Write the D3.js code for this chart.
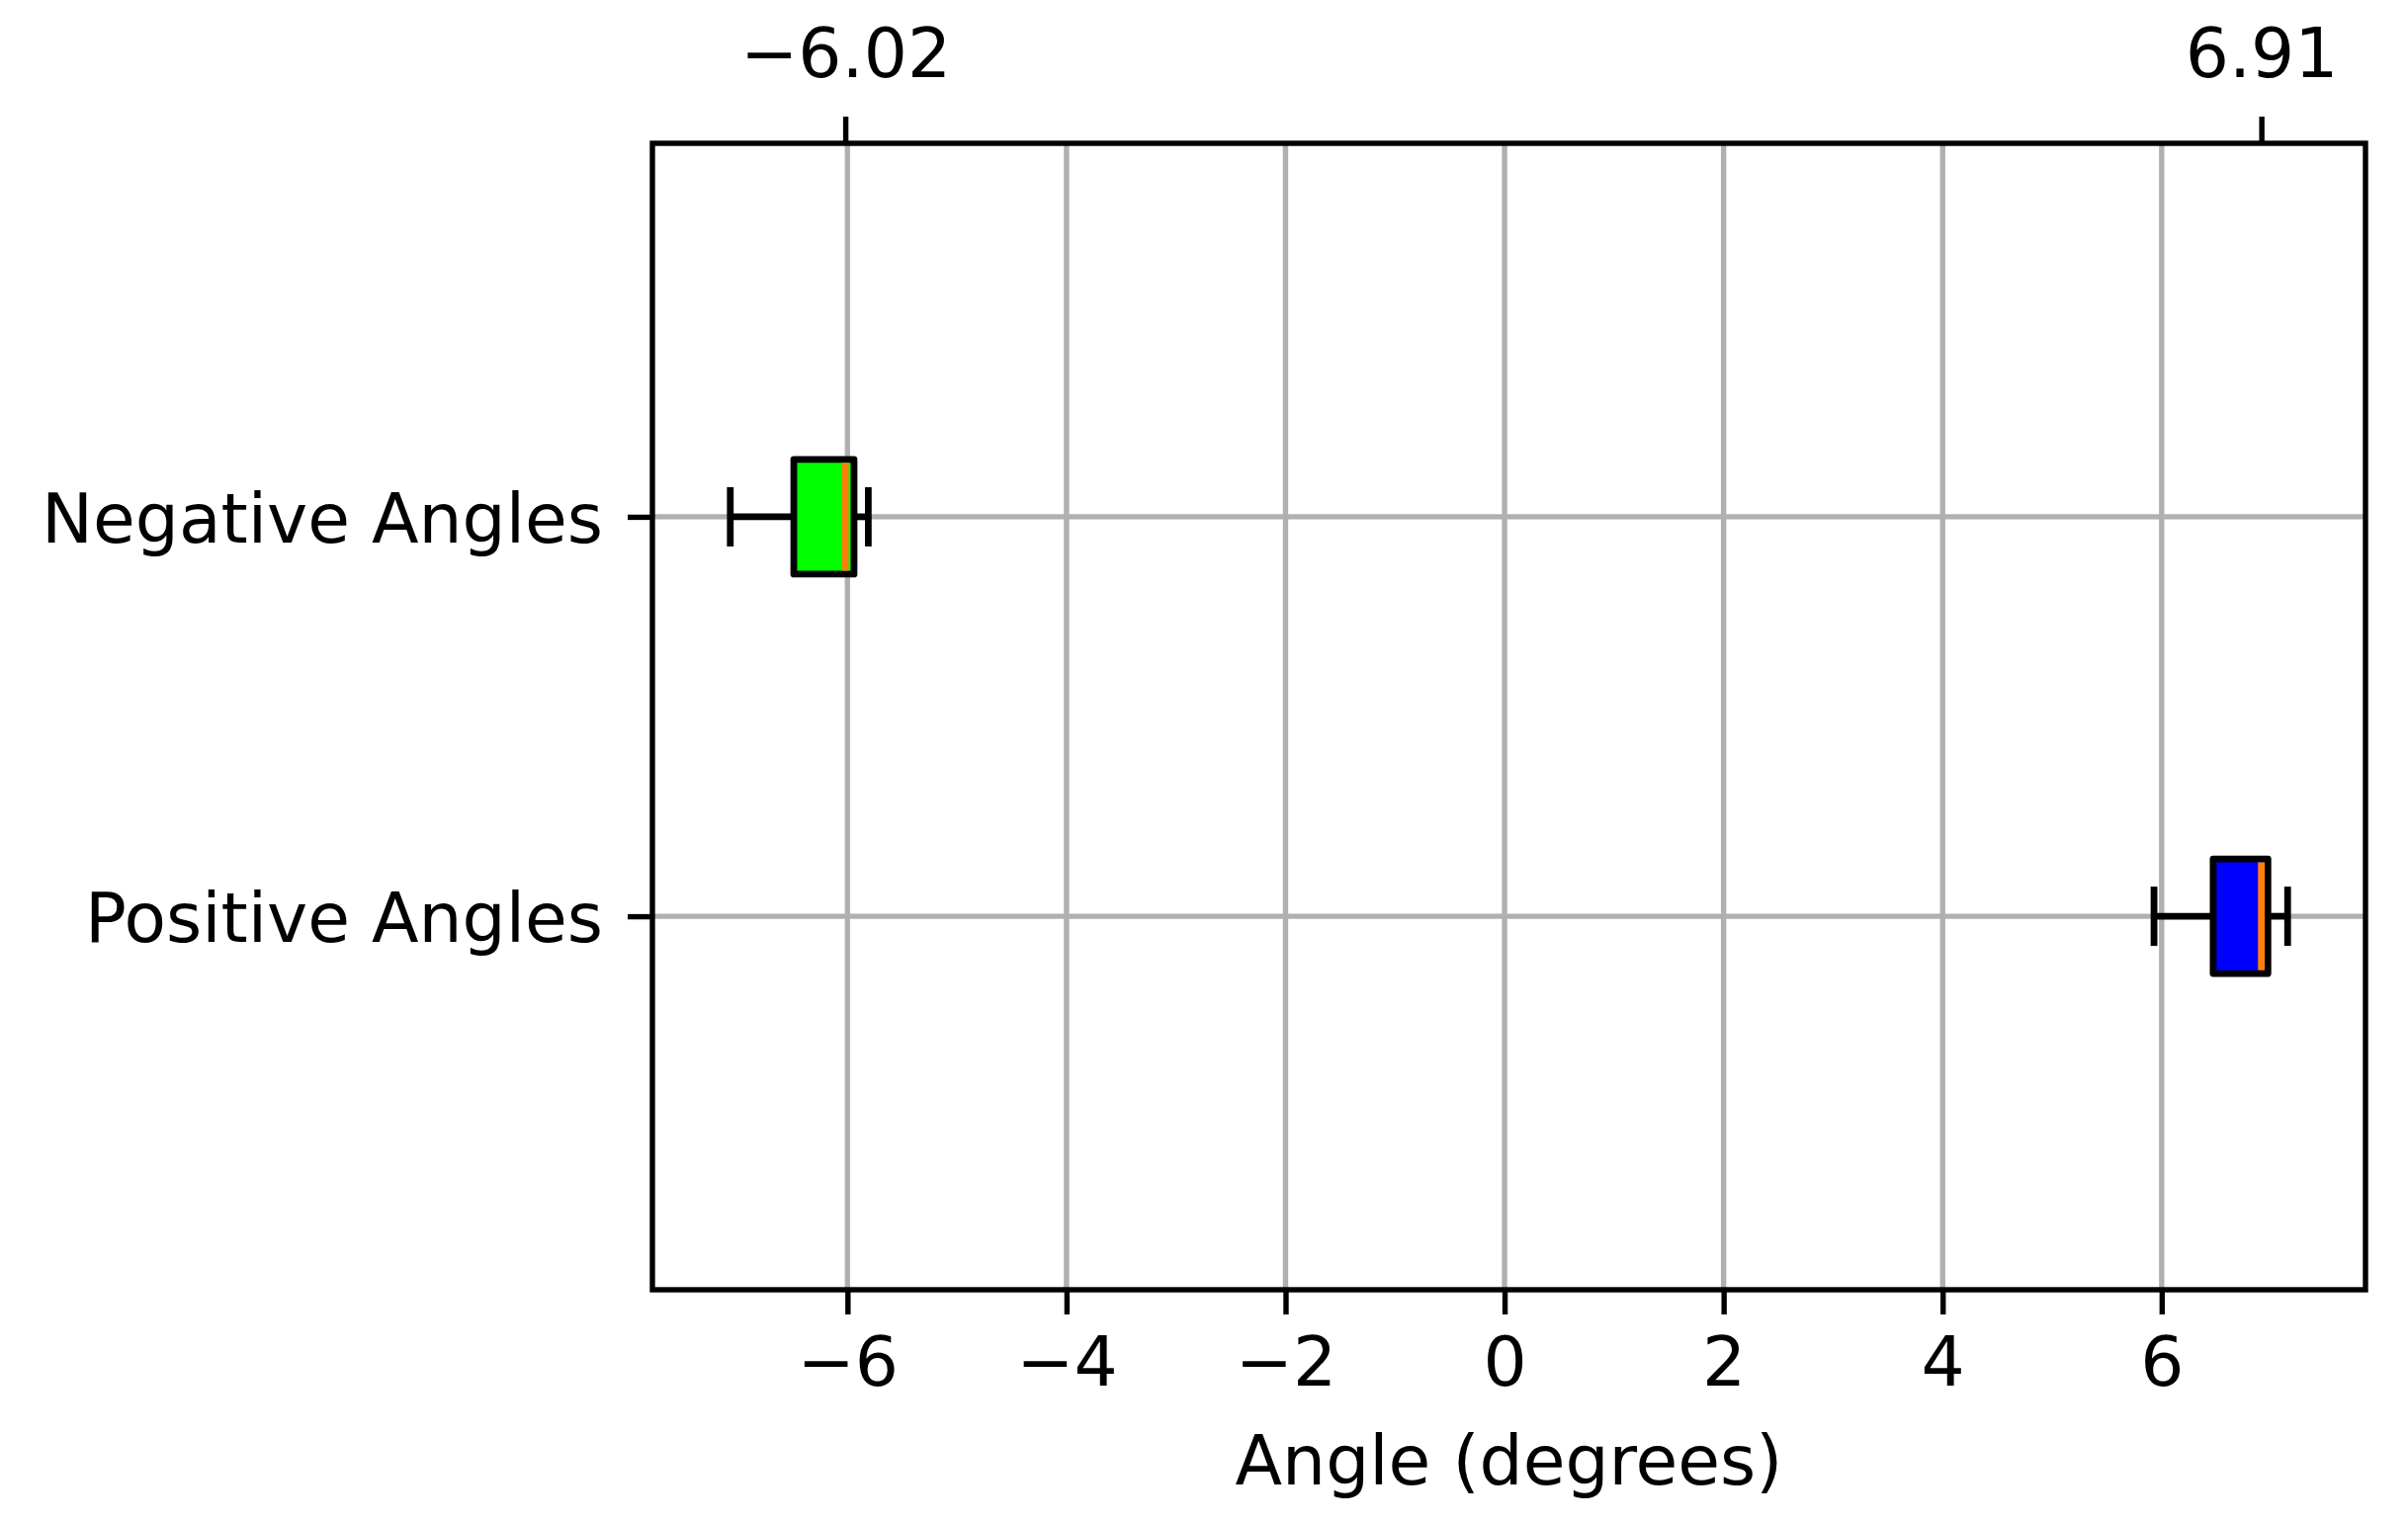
<!DOCTYPE html>
<html>
<head>
<meta charset="utf-8">
<script src="https://cdn.jsdelivr.net/npm/d3@7"></script>
<style>
  html, body { margin: 0; padding: 0; background: #ffffff; }
  svg { display: block; font-family: "DejaVu Sans", sans-serif; }
</style>
</head>
<body>
<svg id="chart" width="2436" height="1540"></svg>
<script>
// ---- data ----
const categories  = ["Negative Angles", "Positive Angles"];
const whiskerLow  = [-7.07, 5.93];
const q1          = [-6.49, 6.47];
const medians     = [-6.02, 6.91];
const q3          = [-5.94, 6.97];
const whiskerHigh = [-5.81, 7.15];
const boxColors   = ["#00ff00", "#0000ff"];
const bottomTicks = [-6, -4, -2, 0, 2, 4, 6];
const topTicks    = [-6.02, 6.91];
const xLabel      = "Angle (degrees)";

// ---- layout ----
const W = 2436, H = 1540;
const margin = { left: 660, right: 43, top: 145, bottom: 235 };
const FS = 69.5;

const svg = d3.select("#chart");

const dataMin = d3.min(whiskerLow), dataMax = d3.max(whiskerHigh);
const pad = (dataMax - dataMin) * 0.05;
const x = d3.scaleLinear()
  .domain([dataMin - pad, dataMax + pad])
  .range([margin.left, W - margin.right]);

const y = d3.scalePoint()
  .domain(categories)
  .range([margin.top, H - margin.bottom])
  .padding(0.935);

const boxH = 116, capH = 60;
const lw = 6.8, spineW = 5.4;

// grid
const grid = svg.append("g");
grid.selectAll("line.gx").data(bottomTicks).join("line")
  .attr("x1", d => x(d)).attr("x2", d => x(d))
  .attr("y1", margin.top).attr("y2", H - margin.bottom)
  .attr("stroke", "#b0b0b0").attr("stroke-width", spineW);
grid.selectAll("line.gy").data(categories).join("line")
  .attr("x1", margin.left).attr("x2", W - margin.right)
  .attr("y1", d => y(d)).attr("y2", d => y(d))
  .attr("stroke", "#b0b0b0").attr("stroke-width", spineW);

// boxes
const rows = categories.map((c, i) => ({
  c, lo: whiskerLow[i], q1: q1[i], med: medians[i], q3: q3[i], hi: whiskerHigh[i], col: boxColors[i]
}));
const g = svg.append("g");
const bx = g.selectAll("g.box").data(rows).join("g");
// whiskers
bx.append("line")
  .attr("x1", d => x(d.lo)).attr("x2", d => x(d.q1))
  .attr("y1", d => y(d.c)).attr("y2", d => y(d.c))
  .attr("stroke", "#000").attr("stroke-width", lw);
bx.append("line")
  .attr("x1", d => x(d.q3)).attr("x2", d => x(d.hi))
  .attr("y1", d => y(d.c)).attr("y2", d => y(d.c))
  .attr("stroke", "#000").attr("stroke-width", lw);
// caps
bx.append("line")
  .attr("x1", d => x(d.lo)).attr("x2", d => x(d.lo))
  .attr("y1", d => y(d.c) - capH / 2).attr("y2", d => y(d.c) + capH / 2)
  .attr("stroke", "#000").attr("stroke-width", lw);
bx.append("line")
  .attr("x1", d => x(d.hi)).attr("x2", d => x(d.hi))
  .attr("y1", d => y(d.c) - capH / 2).attr("y2", d => y(d.c) + capH / 2)
  .attr("stroke", "#000").attr("stroke-width", lw);
// box
bx.append("rect")
  .attr("x", d => x(d.q1)).attr("width", d => x(d.q3) - x(d.q1))
  .attr("y", d => y(d.c) - boxH / 2).attr("height", boxH)
  .attr("fill", d => d.col).attr("stroke", "#000").attr("stroke-width", lw)
  .attr("stroke-linejoin", "round");
// median
bx.append("line")
  .attr("x1", d => x(d.med)).attr("x2", d => x(d.med))
  .attr("y1", d => y(d.c) - boxH / 2 + lw / 2).attr("y2", d => y(d.c) + boxH / 2 - lw / 2)
  .attr("stroke", "#ff7f0e").attr("stroke-width", lw);

// axes
function styleAxis(sel) {
  sel.select(".domain").remove();
  sel.selectAll(".tick line").attr("stroke", "#000").attr("stroke-width", spineW);
  sel.selectAll(".tick text").attr("fill", "#000")
    .attr("font-family", "'DejaVu Sans', sans-serif").attr("font-size", FS);
}
const xb = svg.append("g").attr("transform", `translate(0,${H - margin.bottom})`)
  .call(d3.axisBottom(x).tickValues(bottomTicks).tickFormat(d3.format("d")).tickSize(25).tickPadding(23));
styleAxis(xb);
const xt = svg.append("g").attr("transform", `translate(0,${margin.top})`)
  .call(d3.axisTop(x).tickValues(topTicks).tickFormat(d3.format(".2f")).tickSize(27).tickPadding(40));
styleAxis(xt);
const ya = svg.append("g").attr("transform", `translate(${margin.left},0)`)
  .call(d3.axisLeft(y).tickSize(25).tickPadding(25));
styleAxis(ya);
ya.selectAll(".tick text").attr("dy", "0.37em");

// spines
svg.append("rect")
  .attr("x", margin.left).attr("y", margin.top)
  .attr("width", W - margin.left - margin.right)
  .attr("height", H - margin.top - margin.bottom)
  .attr("fill", "none").attr("stroke", "#000").attr("stroke-width", spineW);

// x label
svg.append("text")
  .attr("x", (margin.left + W - margin.right) / 2)
  .attr("y", 1502)
  .attr("text-anchor", "middle")
  .attr("font-size", FS).attr("fill", "#000")
  .text(xLabel);
</script>
</body>
</html>
